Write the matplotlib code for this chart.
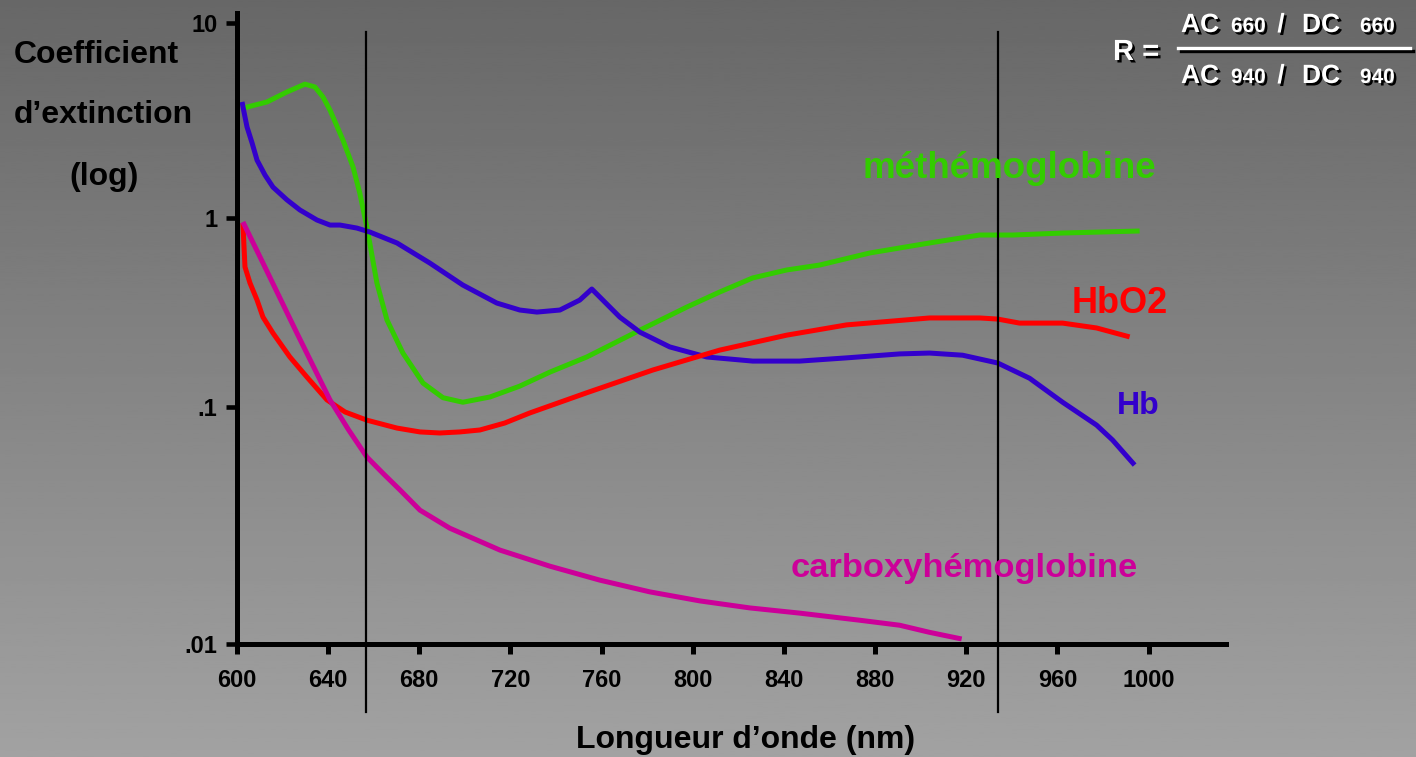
import numpy as np
import matplotlib
matplotlib.use("Agg")
import matplotlib.pyplot as plt
import matplotlib.patheffects as pe
from matplotlib.lines import Line2D
from matplotlib.ticker import NullLocator

plt.rcParams['font.family'] = ['Liberation Sans', 'DejaVu Sans']
plt.rcParams['font.weight'] = 'bold'

# --- data (wavelength nm, extinction coefficient) ---
metHb_nm = [602.6, 613.2, 621.9, 629.8, 634.2, 637.7, 640.8, 646.5, 650.9, 653.9, 657.0,
            661.4, 665.8, 672.8, 681.6, 690.4, 699.1, 711.0, 724.1, 737.3, 753.5, 776.8,
            797.4, 811.8, 826.3, 841.2, 855.7, 877.6, 903.9, 925.9, 940.4, 962.3, 996.1]
metHb = [3.66, 3.94, 4.43, 4.86, 4.70, 4.18, 3.58, 2.51, 1.83, 1.34, 0.896,
         0.453, 0.289, 0.193, 0.134, 0.112, 0.106, 0.113, 0.129, 0.153, 0.184, 0.255,
         0.338, 0.406, 0.482, 0.531, 0.564, 0.653, 0.738, 0.813, 0.813, 0.833, 0.854]

Hb_nm = [602.2, 603.5, 604.4, 606.6, 608.8, 612.3, 615.8, 621.9, 627.6, 635.1, 640.8,
         645.2, 652.6, 658.3, 670.2, 684.6, 699.1, 714.0, 724.1, 731.6, 741.7, 750.4,
         755.7, 768.0, 776.8, 789.9, 806.1, 826.3, 846.9, 867.5, 890.8, 903.9, 918.4,
         933.8, 947.8, 962.3, 977.2, 984.2, 993.9]
Hb = [3.94, 3.30, 2.93, 2.43, 1.98, 1.66, 1.44, 1.24, 1.10, 0.976, 0.918,
      0.918, 0.885, 0.843, 0.738, 0.578, 0.442, 0.355, 0.326, 0.318, 0.326, 0.368,
      0.421, 0.299, 0.249, 0.208, 0.184, 0.175, 0.175, 0.182, 0.191, 0.193, 0.188,
      0.171, 0.142, 0.106, 0.0839, 0.0726, 0.0569]

HbO2_nm = [602.6, 603.0, 603.5, 605.7, 608.8, 611.4, 615.8, 623.2, 630.7, 639.5, 647.4,
           657.0, 670.2, 680.3, 689.0, 697.8, 706.6, 717.5, 728.5, 753.5, 782.5, 811.8,
           841.2, 867.5, 903.9, 925.9, 933.8, 943.4, 962.3, 977.2, 991.7]
HbO2 = [0.941, 0.738, 0.551, 0.453, 0.368, 0.299, 0.246, 0.184, 0.144, 0.109, 0.0953,
        0.088, 0.0815, 0.0785, 0.0777, 0.0785, 0.080, 0.0856, 0.0944, 0.119, 0.157, 0.200,
        0.240, 0.272, 0.296, 0.296, 0.292, 0.278, 0.278, 0.262, 0.235]

COHb_nm = [602.6, 611.4, 626.3, 640.8, 649.0, 657.0, 664.5, 671.5, 680.3, 693.4, 715.4,
           737.3, 759.2, 781.1, 803.1, 825.0, 846.9, 873.2, 890.8, 903.9, 918.0]
COHb = [0.953, 0.578, 0.246, 0.109, 0.0800, 0.0615, 0.0520, 0.0447, 0.0367, 0.0308, 0.0249,
        0.0213, 0.0186, 0.0166, 0.0152, 0.0142, 0.0135, 0.0126, 0.0120, 0.0112, 0.0105]

x_ticks = [600, 640, 680, 720, 760, 800, 840, 880, 920, 960, 1000]
y_ticks = [0.01, 0.1, 1, 10]
y_ticklabels = ['.01', '.1', '1', '10']
lambda_lines = [656.6, 933.8]

# hand drawn log axis: decades are not evenly spaced
LOG_NODES = [-3, -2, -1, 0, 1, 2]
PIX_NODES = [-237, 0, 237, 426, 621, 816]


def fwd(v):
    v = np.clip(np.asarray(v, dtype=float), 1e-12, None)
    return np.interp(np.log10(v), LOG_NODES, PIX_NODES)


def inv(u):
    return 10 ** np.interp(np.asarray(u, dtype=float), PIX_NODES, LOG_NODES)


W, H = 1416, 757
fig = plt.figure(figsize=(W / 100, H / 100), dpi=100)

# grey gradient background
bg = fig.add_axes([0, 0, 1, 1], zorder=-10)
grad = np.linspace(0.405, 0.635, 256).reshape(-1, 1)
bg.imshow(grad, cmap='gray', vmin=0, vmax=1, aspect='auto', extent=[0, 1, 0, 1], origin='upper')
bg.axis('off')

ax = fig.add_axes([237 / W, 113 / H, (1226 - 237) / W, 631 / H])
ax.patch.set_alpha(0)
ax.set_yscale('function', functions=(fwd, inv))
ax.set_xlim(600, 1034)
ax.set_ylim(0.01, 11.26)

kw = dict(lw=3.6, solid_capstyle='butt', solid_joinstyle='round')
ax.plot(metHb_nm, metHb, color='#33cc00', **kw)
ax.plot(Hb_nm, Hb, color='#3300cc', **kw)
ax.plot(HbO2_nm, HbO2, color='#ff0000', **kw)
ax.plot(COHb_nm, COHb, color='#cc0099', **kw)

for xv in lambda_lines:
    ax.axvline(xv, ymin=-0.108, ymax=0.970, color='black', lw=1.6, clip_on=False)

ax.text(939, 1.80, 'méthémoglobine', color='#33cc00', fontsize=26.5, ha='center', va='center')
ax.text(987.5, 0.355, 'HbO2', color='#ff0000', fontsize=26, ha='center', va='center')
ax.text(995.5, 0.101, 'Hb', color='#3300cc', fontsize=23, ha='center', va='center')
ax.text(919, 0.0209, 'carboxyhémoglobine', color='#cc0099', fontsize=24.8, ha='center', va='center')

for side in ['top', 'right']:
    ax.spines[side].set_visible(False)
for side in ['left', 'bottom']:
    ax.spines[side].set_linewidth(3.6)

ax.set_xticks(x_ticks)
ax.set_yticks(y_ticks)
ax.set_yticklabels(y_ticklabels)
ax.yaxis.set_minor_locator(NullLocator())
ax.xaxis.set_minor_locator(NullLocator())
ax.tick_params(axis='y', direction='out', length=8, width=3.3, pad=6, labelsize=17)
ax.tick_params(axis='x', direction='out', length=7, width=3.6, pad=11, labelsize=17)

# axis titles
fig.text(14 / W, 1 - 63 / H, 'Coefficient', fontsize=23, ha='left', va='baseline')
fig.text(14 / W, 1 - 123 / H, 'd’extinction', fontsize=23, ha='left', va='baseline')
fig.text(104 / W, 1 - 185 / H, '(log)', fontsize=23, ha='center', va='baseline')
fig.text(746 / W, 1 - 748 / H, 'Longueur d’onde (nm)', fontsize=23, ha='center', va='baseline')

# ratio formula, white with drop shadow
shadow = [pe.withSimplePatchShadow(offset=(1.8, -1.8), shadow_rgbFace='black', alpha=1.0)]
fig.text(1113 / W, 1 - 60 / H, 'R =', fontsize=21, color='white', ha='left', va='baseline',
         path_effects=shadow)
for base, num in [(32, '660'), (83, '940')]:
    yb = 1 - base / H
    fig.text(1181 / W, yb, 'AC', fontsize=19, color='white', va='baseline', path_effects=shadow)
    fig.text(1231 / W, yb, num, fontsize=15, color='white', va='baseline', path_effects=shadow)
    fig.text(1281 / W, yb, '/', fontsize=19, color='white', va='baseline', ha='center',
             path_effects=shadow)
    fig.text(1302 / W, yb, 'DC', fontsize=19, color='white', va='baseline', path_effects=shadow)
    fig.text(1360 / W, yb, num, fontsize=15, color='white', va='baseline', path_effects=shadow)
bar = Line2D([1178 / W, 1410 / W], [1 - 48 / H, 1 - 48 / H], transform=fig.transFigure,
             color='white', lw=2.4,
             path_effects=[pe.SimpleLineShadow(offset=(1.8, -1.8), shadow_color='black', alpha=1.0),
                           pe.Normal()])
fig.add_artist(bar)

fig.savefig('out.png', dpi=100)
